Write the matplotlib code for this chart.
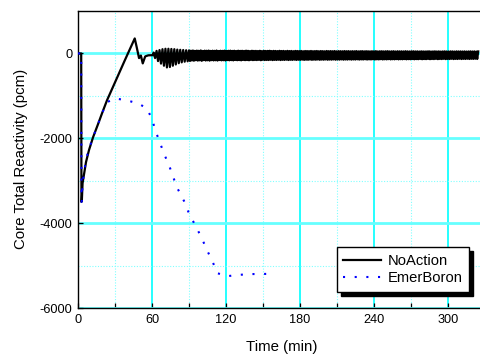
import numpy as np
import matplotlib
matplotlib.use("Agg")
import matplotlib.pyplot as plt
from matplotlib.ticker import MultipleLocator

plt.rcParams['font.family'] = ['Liberation Sans', 'DejaVu Sans']

# ---- NoAction: core total reactivity (pcm) vs time (min) ----
na_time = [0, 2.6, 2.8, 3.1, 3.7, 6.5, 8.9, 12.2, 16.2, 19.5, 23.5, 30, 38, 46,
           47.5, 49.5, 51, 52.5, 54.5, 57, 61]
na_value = [0, 0, -3500, -3480, -3060, -2560, -2280, -1976, -1670, -1410, -1106,
            -682, -160, 353, 160, -110, -50, -235, -70, -45, -40]

# oscillation after re-criticality (61-90 min): crest, trough, crest, ...
na_osc_early = [
    20, -110, 60, -180, 80, -240, 100, -290, 110, -330, 110, -320,
    105, -290, 100, -260, 90, -230, 85, -210, 80, -195, 75, -185,
]
na_osc_early_start, na_osc_early_step = 61.3, 1.2

# sustained oscillation (90-325 min): successive crests and troughs
na_crests = [
    72, 64, 69, 60, 66, 62, 70, 58, 65, 63,
    67, 59, 64, 61, 68, 57, 63, 60, 66, 58,
    62, 65, 59, 63, 57, 64, 60, 62, 58, 65,
    61, 56, 63, 59, 60, 57, 62, 55, 61, 58,
    59, 62, 56, 60, 58, 55, 61, 57, 59, 54,
    60, 56, 58, 53, 59, 57, 55, 58, 52, 57,
    56, 54, 58, 53, 55, 57, 52, 56, 54, 51,
    57, 53, 55, 52, 56, 50, 54, 53, 51, 55,
    52, 54, 50, 53, 51, 55, 49, 52, 54, 50,
    53, 51, 49, 52, 50, 54, 48, 51, 52, 49,
    51, 53, 48, 50, 52, 47, 51, 49, 50, 48,
    52, 49, 47, 50, 51, 48, 49, 46, 50, 48,
    47, 49, 51, 46, 48, 50, 47, 49, 45, 48,
    50, 47, 46, 49, 48, 45, 49, 47, 48, 46,
    48, 45, 47, 49, 46, 48, 44, 47]
na_troughs = [
    -178, -166, -172, -160, -169, -163, -174, -158, -167, -162,
    -170, -159, -165, -161, -168, -156, -163, -160, -166, -157,
    -162, -158, -164, -155, -160, -157, -163, -154, -159, -156,
    -161, -153, -158, -155, -157, -152, -160, -151, -156, -154,
    -155, -150, -157, -152, -154, -149, -156, -151, -153, -148,
    -155, -150, -152, -147, -153, -149, -151, -146, -152, -148,
    -150, -145, -151, -147, -149, -144, -150, -146, -148, -143,
    -149, -145, -147, -142, -148, -144, -146, -141, -147, -143,
    -145, -140, -146, -142, -144, -139, -145, -141, -143, -138,
    -144, -140, -142, -137, -143, -139, -141, -136, -142, -138,
    -140, -135, -141, -137, -139, -134, -140, -136, -138, -133,
    -139, -135, -137, -132, -138, -134, -136, -131, -137, -133,
    -135, -130, -136, -132, -134, -129, -135, -131, -133, -128,
    -134, -130, -132, -127, -133, -129, -131, -126, -132, -128,
    -130, -126, -131, -127, -129, -125, -130]
na_osc_late_start, na_osc_late_end = 90.0, 324.5

# ---- EmerBoron ----
eb_time = [0, 2.6, 2.8, 3.1, 3.7, 6.5, 8.9, 12.2, 16.2, 19.5, 23.5, 30, 39.5, 49,
           56, 60, 63, 66.5, 70, 74, 77.5, 81, 86, 90, 94.5, 100, 104.5, 109,
           113, 121, 130, 140, 149, 158]
eb_value = [0, 0, -3500, -3480, -3060, -2500, -2250, -1976, -1670, -1410, -1150,
            -1060, -1106, -1180, -1300, -1550, -1835, -2110, -2380, -2650, -2940,
            -3200, -3480, -3770, -4020, -4330, -4630, -4900, -5180, -5250, -5220,
            -5200, -5200, -5190]

x_ticks = [0, 60, 120, 180, 240, 300]
y_ticks = [-6000, -4000, -2000, 0]

# assemble the NoAction trace
early_t = na_osc_early_start + na_osc_early_step * np.arange(len(na_osc_early))
late_vals = []
for i, c in enumerate(na_crests):
    late_vals.append(c)
    if i < len(na_troughs):
        late_vals.append(na_troughs[i])
late_t = np.linspace(na_osc_late_start, na_osc_late_end, len(late_vals))
na_t_all = np.concatenate([na_time, early_t, late_t])
na_v_all = np.concatenate([na_value, na_osc_early, late_vals])

W, H = 481, 358
fig = plt.figure(figsize=(W / 100, H / 100), dpi=100)
ax = fig.add_axes([78 / W, 50 / H, 407 / W, 297 / H])

ax.set_xlim(0, 330)
ax.set_ylim(-6000, 1000)

# grid
ax.xaxis.set_minor_locator(MultipleLocator(30))
ax.yaxis.set_minor_locator(MultipleLocator(1000))
ax.set_xticks(x_ticks)
ax.set_yticks(y_ticks)
ax.xaxis.grid(True, which='major', color='#00FFFF', lw=1.2, zorder=0)
ax.yaxis.grid(True, which='major', color='#66FFFF', lw=2.0, zorder=0)
ax.grid(True, which='minor', color='#80FFFF', lw=0.8, ls=(0, (1, 1.5)), zorder=0)
ax.set_axisbelow(True)

ax.plot(na_t_all, na_v_all, color='black', lw=1.6, label='NoAction', zorder=3)
line_eb, = ax.plot(eb_time, eb_value, color='#0000FF', lw=1.5, label='EmerBoron',
                   zorder=4, dash_capstyle='butt')
line_eb.set_dashes((1.0, 4.6))

for s in ax.spines.values():
    s.set_linewidth(1.0)
    s.set_color('black')

ax.tick_params(axis='both', which='both', direction='in', length=3.5, width=0.9,
               labelsize=9.2, colors='black', top=False, right=False)
ax.tick_params(axis='y', which='minor', length=0)
ax.tick_params(axis='x', pad=4)
ax.tick_params(axis='y', pad=4)
ax.set_xticklabels([str(v) for v in x_ticks])
ax.set_yticklabels([str(v) for v in y_ticks])

ax.set_xlabel('Time (min)', fontsize=10.8)
ax.set_ylabel('Core Total Reactivity (pcm)', fontsize=10.8)
ax.xaxis.set_label_coords((282 - 78) / 407, -(340 - 308) / 297)
ax.yaxis.set_label_coords(-(78 - 28) / 407, (308 - 159) / 297)

leg = ax.legend(loc='lower right', bbox_to_anchor=(469 / W, (H - 292) / H),
                bbox_transform=fig.transFigure, borderaxespad=0, fontsize=10.6,
                frameon=True, fancybox=False, handlelength=2.6, handletextpad=0.4,
                borderpad=0.45, labelspacing=0.25,
                shadow={'ox': 3, 'oy': -3, 'color': 'black', 'alpha': 1})
leg.get_frame().set_edgecolor('black')
leg.get_frame().set_linewidth(1.0)
leg.get_frame().set_alpha(1)

fig.savefig('out.png', dpi=100)
